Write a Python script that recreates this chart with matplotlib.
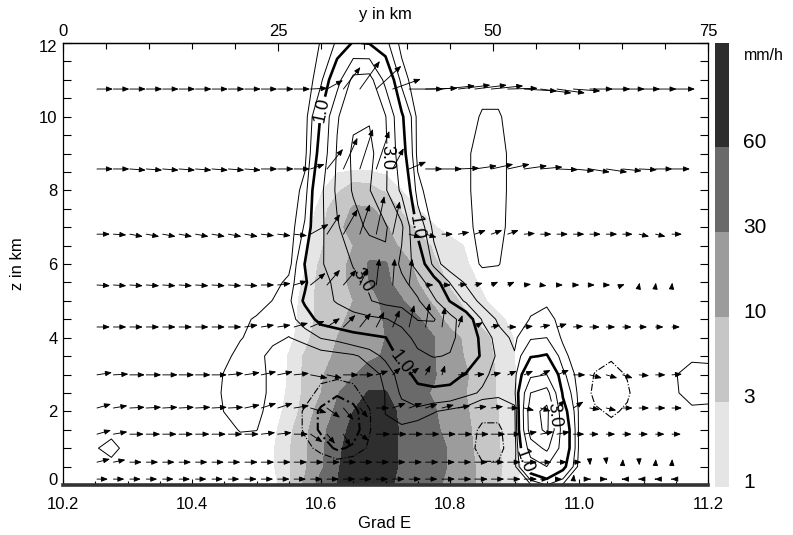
import numpy as np
import matplotlib
matplotlib.use("Agg")
import matplotlib.pyplot as plt
from matplotlib.colors import ListedColormap, BoundaryNorm
from matplotlib.ticker import MultipleLocator, FixedLocator, FixedFormatter

plt.rcParams['font.family'] = ['Liberation Sans', 'DejaVu Sans']

# ---------------- rain rate (mm/h), shaded ----------------
rain_lon = np.round(np.arange(10.525, 10.951, 0.025), 3)          # 18 columns
rain_z = np.arange(0.0, 9.01, 0.5)                                 # 19 levels
rain = np.array([
    [0.5, 2.0, 12, 40, 60, 80, 90, 70, 50, 45, 35, 25, 15, 6.0, 3.2, 1.1, 0.5, 0],
    [0.8, 2.5, 8, 25, 55, 85, 95, 75, 55, 45, 38, 28, 14, 7.0, 3.5, 1.3, 0.5, 0],
    [0.8, 2.5, 7, 25, 50, 80, 95, 80, 52, 45, 38, 28, 13, 6.0, 3.2, 1.1, 0.3, 0],
    [0.6, 2.0, 6, 22, 45, 70, 90, 80, 55, 45, 35, 22, 12, 6.0, 3.1, 1.2, 0.3, 0],
    [0.3, 1.5, 4, 15, 35, 60, 75, 70, 55, 40, 32, 20, 11, 5.0, 3.0, 1.2, 0.3, 0],
    [0.2, 1.2, 3.5, 10, 28, 45, 63, 62, 45, 35, 28, 16, 10, 5.0, 2.5, 1.1, 0.3, 0],
    [0.0, 1.1, 3.5, 8, 18, 28, 40, 45, 42, 38, 32, 18, 11, 5.0, 2.5, 1.05, 0.3, 0],
    [0.0, 1.1, 3.3, 6, 12, 20, 26, 32, 40, 38, 31, 15, 9, 4.5, 2.3, 1.0, 0.2, 0],
    [0.0, 0.5, 2.0, 5, 10, 15, 22, 30, 38, 36, 31, 14, 8, 4.0, 2.0, 0.9, 0.2, 0],
    [0.0, 0.4, 1.5, 4, 8, 12, 20, 32, 36, 33, 15, 6, 3.5, 2.0, 1.3, 0.6, 0, 0],
    [0.0, 0.3, 1.5, 4, 7, 10, 22, 35, 32, 15, 8, 4, 2.2, 1.2, 0.5, 0, 0, 0],
    [0.0, 0.2, 1.2, 4, 7, 12, 30, 35, 20, 10, 5, 2.5, 1.5, 0.8, 0, 0, 0, 0],
    [0.0, 0.0, 0.8, 3.5, 7, 12, 33, 32, 15, 7, 3.5, 1.8, 1.1, 0.5, 0, 0, 0, 0],
    [0.0, 0.0, 0.5, 2.5, 6, 10, 18, 15, 8, 5, 2.5, 1.5, 0.9, 0, 0, 0, 0, 0],
    [0.0, 0.0, 0.3, 2.0, 8, 13, 14, 11, 5, 2, 1.1, 0.5, 0, 0, 0, 0, 0, 0],
    [0.0, 0.0, 0.0, 1.5, 5, 11, 11, 7, 2.5, 1.0, 0.4, 0, 0, 0, 0, 0, 0, 0],
    [0.0, 0.0, 0.0, 0.8, 2.5, 4.5, 4, 2.5, 1.0, 0.3, 0, 0, 0, 0, 0, 0, 0, 0],
    [0.0, 0.0, 0.0, 0.0, 0.9, 1.1, 1.1, 0.7, 0, 0, 0, 0, 0, 0, 0, 0, 0, 0],
    [0.0, 0.0, 0.0, 0.0, 0, 0, 0, 0, 0, 0, 0, 0, 0, 0, 0, 0, 0, 0],
])
rain_levels = [1, 3, 10, 30, 60]
rain_colors = ['#e5e5e5', '#c6c6c6', '#9c9c9c', '#6a6a6a', '#2e2e2e']

# ---------------- vertical velocity (m/s), contoured ----------------
w_lon = np.round(np.arange(10.225, 11.201, 0.025), 3)             # 40 columns
w_z = np.array([0, 0.5, 1, 1.5, 2, 2.5, 3, 3.5, 4, 4.5, 5, 5.5, 6, 7, 8, 9, 10, 11, 12])
w_field = np.array([
    [0, 0, 0, 0, 0, 0, 0, 0, 0, 0,   0, 0, 0, 0, 0, 0, 0, 0, 0, 0,
     0, 0, 0, 0, 0, 0, 0, 0, 0.15, 0.5,   0.15, 0, 0, 0, 0, 0, 0, 0, 0, 0],
    [0, 0, 0, 0, 0, 0, 0, 0, 0, 0,   0, 0, 0, 0, 0, 0, -0.1, 0, 0, 0,
     0, 0, 0, 0, 0, -0.4, -0.4, 0.1, 1.5, 2.0,   1.2, 0.1, 0, 0, 0, 0, 0, 0, 0, 0],
    [0, 0.15, 0.4, 0, 0, 0, 0, 0, 0, 0,   0, 0, 0, 0, -0.3, -0.7, -1.1, -0.9, -0.4, 0,
     0, 0, 0, 0, -0.2, -0.75, -0.75, 0, 2.5, 3.2,   1.6, 0.15, 0, 0, 0, 0, 0, 0, 0, 0],
    [0, 0, 0, 0, 0, 0, 0, 0, 0, 0.05,   0.23, 0.21, 0, 0, -0.6, -1.1, -1.6, -1.3, -0.55, 0.1,
     0.12, 0, 0, 0, -0.15, -0.65, -0.65, 0.05, 3.5, 4.2,   1.6, 0.15, -0.15, -0.3, -0.1, 0, 0, 0, 0, 0],
    [0, 0, 0, 0, 0, 0, 0, 0, 0, 0.21,   0.35, 0.3, 0.05, 0, -0.6, -1.1, -1.5, -1.2, -0.55, 0.22,
     0.4, 0.4, 0.22, 0.12, 0.05, -0.25, -0.25, 0.1, 3.6, 4.3,   1.3, 0.15, -0.4, -0.6, -0.4, 0, 0, 0, 0.1, 0.1],
    [0, 0, 0, 0, 0, 0, 0, 0, 0, 0.25,   0.4, 0.35, 0.1, 0, -0.2, -0.7, -0.9, -0.7, -0.2, 0.22,
     0.55, 0.8, 0.85, 0.8, 0.6, 0.45, 0.35, 0.4, 3.0, 3.4,   0.9, 0.1, -0.7, -0.9, -0.6, 0, 0, 0.15, 0.4, 0.35],
    [0, 0, 0, 0, 0, 0, 0, 0, 0, 0.22,   0.35, 0.35, 0.1, 0, 0, -0.3, -0.35, -0.3, 0.1, 0.25,
     0.7, 1.2, 1.3, 1.25, 0.95, 0.6, 0.35, 0.35, 1.8, 2.0,   0.6, 0.05, -0.55, -0.75, -0.45, 0, 0, 0.18, 0.4, 0.35],
    [0, 0, 0, 0, 0, 0, 0, 0, 0, 0.12,   0.3, 0.3, 0.1, 0, 0, 0.05, 0.1, 0.15, 0.3, 0.6,
     1.2, 1.8, 2.05, 1.95, 1.5, 0.9, 0.4, 0.22, 0.95, 1.05,   0.3, 0, -0.2, -0.4, -0.15, 0, 0, 0, 0.1, 0.1],
    [0, 0, 0, 0, 0, 0, 0, 0, 0, 0.1,   0.18, 0.3, 0.28, 0.19, 0.3, 0.52, 0.6, 0.75, 0.85, 0.98,
     1.6, 2.3, 2.6, 2.2, 1.6, 0.8, 0.3, 0.15, 0.45, 0.5,   0.15, 0, 0, 0, 0, 0, 0, 0, 0, 0],
    [0, 0, 0, 0, 0, 0, 0, 0, 0, 0,   0.1, 0.25, 0.3, 0.35, 0.7, 1.2, 1.4, 1.6, 1.8, 1.95,
     2.3, 3.05, 3.05, 2.4, 1.4, 0.45, 0.15, 0, 0.22, 0.3,   0.1, 0, 0, 0, 0, 0, 0, 0, 0, 0],
    [0, 0, 0, 0, 0, 0, 0, 0, 0, 0,   0, 0, 0.21, 0.4, 1.1, 1.6, 2.1, 2.6, 2.95, 3.3,
     3.4, 3.1, 2.2, 0.95, 0.4, 0.1, 0, 0, 0.1, 0.15,   0, 0, 0, 0, 0, 0, 0, 0, 0, 0],
    [0, 0, 0, 0, 0, 0, 0, 0, 0, 0,   0, 0, 0.05, 0.3, 0.9, 1.7, 2.2, 2.8, 3.1, 3.4,
     3.2, 2.6, 1.3, 0.48, 0.15, 0, 0, 0, 0, 0,   0, 0, 0, 0, 0, 0, 0, 0, 0, 0],
    [0, 0, 0, 0, 0, 0, 0, 0, 0, 0,   0, 0, 0, 0.05, 1.02, 1.9, 2.5, 3.05, 3.3, 3.85,
     2.8, 1.5, 0.35, 0, 0, 0.25, 0.22, 0, 0, 0,   0, 0, 0, 0, 0, 0, 0, 0, 0, 0],
    [0, 0, 0, 0, 0, 0, 0, 0, 0, 0,   0, 0, 0, 0, 0.55, 1.8, 2.9, 3.6, 4.2, 4.1,
     3.2, 0.8, 0.1, 0, 0.05, 0.4, 0.35, 0, 0, 0,   0, 0, 0, 0, 0, 0, 0, 0, 0, 0],
    [0, 0, 0, 0, 0, 0, 0, 0, 0, 0,   0, 0, 0, 0, 0.3, 1.8, 3.2, 4.1, 4.05, 3.1,
     1.8, 0.3, 0, 0, 0.1, 0.45, 0.4, 0, 0, 0,   0, 0, 0, 0, 0, 0, 0, 0, 0, 0],
    [0, 0, 0, 0, 0, 0, 0, 0, 0, 0,   0, 0, 0, 0, 0.1, 1.3, 3.1, 4.2, 4.3, 3.2,
     1.3, 0.1, 0, 0, 0.1, 0.45, 0.4, 0, 0, 0,   0, 0, 0, 0, 0, 0, 0, 0, 0, 0],
    [0, 0, 0, 0, 0, 0, 0, 0, 0, 0,   0, 0, 0, 0, 0.05, 1.05, 2.9, 3.8, 3.9, 3.05,
     1.1, 0.1, 0, 0, 0, 0.25, 0.25, 0, 0, 0,   0, 0, 0, 0, 0, 0, 0, 0, 0, 0],
    [0, 0, 0, 0, 0, 0, 0, 0, 0, 0,   0, 0, 0, 0, 0, 0.4, 1.6, 3.3, 3.4, 1.7,
     0.35, 0, 0, 0, 0, 0, 0, 0, 0, 0,   0, 0, 0, 0, 0, 0, 0, 0, 0, 0],
    [0, 0, 0, 0, 0, 0, 0, 0, 0, 0,   0, 0, 0, 0, 0, 0.22, 0.55, 1.05, 0.95, 0.6,
     0.1, 0, 0, 0, 0, 0, 0, 0, 0, 0,   0, 0, 0, 0, 0, 0, 0, 0, 0, 0],
])
w_levels_thin = [0.2, 0.5, 2.0, 4.0]
w_level_thick = 1.0
w_level_three = 3.0
w_levels_neg = [-1.0, -0.5]

# ---------------- wind vectors (u, w in m/s) ----------------
vec_lon = np.linspace(10.2527, 11.1442, 36)
vec_z = [0.16, 0.62, 1.38, 2.09, 2.99, 4.29, 5.43, 6.81, 8.58, 10.75]
vec_u = np.array([
    [11, 11, 11, 11, 11, 11, 11, 11, 11,  12, 12, 12, 12,  12, 12, 12, 12,  12, 12, 12, 12, 13, 13, 13, 13,
     13, 13, 8, 5,  0.5,  0.8, 0.8, -0.8, -0.8, -0.8, -0.8],
    [13, 12, 12, 12, 12, 12, 12, 12, 12,  13, 13, 13, 13,  13, 13, 13, 13,  13, 13, 13, 13, 13, 13, 13, 13,
     13, 13, 11, 10,  8,  0.3, 0.3, 0.2, 0.2, 0.2, 0.2],
    [14, 14, 14, 14, 14, 14, 14, 14, 14,  14, 14, 14, 14,  12, 8, 7, 9,  14, 14, 14, 14, 14, 14, 14, 14,
     13, 13, 13, 13,  11,  9, 9, 9, 9, 9, 9],
    [14, 14, 15, 15, 15, 15, 15, 15, 15,  15, 15, 15, 15,  16, 13, 10, 8,  13, 13, 13, 12, 12, 12, 12, 12,
     11, 10, 10, 8,  10,  10, 10, 10, 10, 10, 10],
    [15, 15, 15, 15, 15, 15, 15, 15, 15,  15, 15, 15, 15,  17, 15, 15, 14,  12, 8, 10, 5, 3, 10, 10, 10,
     9, 9, 10, 12,  12,  12, 11, 10, 10, 10, 10],
    [13, 13, 13, 13, 13, 13, 13, 13, 13,  13, 13, 13, 14,  14, 13, 12, 11,  8, 7, 5, 4, 3, 4, 8, 9,
     9, 9, 10, 10,  10,  10, 9, 9, 8, 8, 8],
    [13, 13, 13, 13, 13, 13, 13, 13, 13,  13, 13, 13, 13,  15, 13, 13, 8,  3, 2, 3, 8, 9, 9, 8, 7,
     7, 7, 6, 6,  6,  5, 4, 2, 0.5, 0.3, 0.3],
    [13, 13, 13, 13, 13, 13, 13, 13, 13,  13, 13, 13, 13,  18, 13, 14, 10,  8, 7, 12, 11, 11, 11, 11, 11,
     11, 11, 11, 11,  11,  11, 11, 10, 10, 10, 10],
    [16, 16, 16, 16, 16, 16, 16, 16, 16,  16, 16, 16, 16,  14, 16, 14, 13,  13, 11, 17, 17, 20, 21, 22, 22,
     22, 23, 22, 21,  21,  20, 21, 19, 18, 17, 18],
    [16, 16, 16, 16, 16, 16, 16, 16, 16,  16, 16, 16, 16,  17, 16, 17, 20,  25, 28, 34, 32, 33, 32, 32, 32,
     30, 33, 31, 28,  27,  23, 24, 22, 21, 21, 23],
])
vec_w = np.array([
    [0, 0, 0, 0, 0, 0, 0, 0, 0,  0, 0, 0, 0,  0, 0, 0, 0,  0, 0, 0, 0, 0, 0, 0, 0,
     0, 0, 0, 0,  0.6,  0, 0, 0, 0, 0, 0],
    [0.4, 0.3, 0, 0, 0, 0, 0, 0, 0,  0, 0, 0, 0,  0, 0, 0, 0,  0, 0, 0, 0, 0, 0, 0, 0,
     0, 0, 0, 0,  0,  -0.4, -0.3, 0.4, -0.4, 0.4, 0.4],
    [0.5, 0.3, 0, 0, 0, 0, 0, 0, 0,  0, 0.2, 0.2, 0,  -1.0, -1.2, -1.5, -0.8,  0, 0, 0, 0, 0, 0, 0, 0,
     0, 0.3, 0.3, 0.3,  0,  0, 0, 0, 0, 0, 0],
    [0.5, 0.3, 0.1, 0.1, 0.1, 0.1, 0.1, 0.1, 0.1,  0.4, 0.6, 0.6, 0.3,  -0.6, -1.2, -1.5, -1.2,
     0, 0.6, 0.6, 0.5, 0.4, 0.3, 0.2, 0.2,  0, -0.3, -0.4, 1.0,  0.8,  -0.2, -0.3, 0, 0, 0, 0],
    [0.3, 0.1, 0, 0, 0, 0, 0, 0, 0.2,  0.3, 0.4, 0.4, 0.2,  -0.4, -0.4, 0, 0,
     0.5, 0.9, 0.9, 1.2, 1.2, 0.1, 0.1, 0.25,  0.5, 0.5, 0.6, 0.6,  0,  -0.4, -0.4, -0.4, -0.1, 0, 0.1],
    [0, 0, 0, 0, 0, 0, 0, 0, 0,  0.25, 0.25, 0.25, 0.5,  0.75, 1.1, 1.5, 1.75,
     1.9, 2.1, 2.75, 3.0, 2.5, 1.5, 0.6, 0.25,  0, 0.1, 0.25, 0.4,  0.1,  0, 0, 0, 0, 0, 0],
    [-0.1, -0.1, -0.1, -0.1, -0.1, -0.1, -0.1, -0.1, -0.1,  -0.1, 0, 0.2, 0.5,  1.5, 1.9, 1.9, 2.1,
     3.3, 3.3, 3.3, 0, 0, 0.1, 0.25, 0.4,  0.4, 0.1, -0.1, 0,  0,  0, 0, 0.1, 0.3, 0.3, 0.3],
    [0, -0.1, -0.3, -0.3, -0.3, -0.3, -0.3, -0.3, -0.3,  -0.3, -0.2, -0.2, -0.2,  1.25, 2.5, 3.1, 3.75,
     4.75, 4.1, -0.4, -0.4, 0, 0.25, 0.5, 0.5,  0.5, 0.1, 0, 0,  0,  0, 0, 0, -0.3, -0.3, 0],
    [0, 0, -0.15, -0.15, -0.15, -0.15, -0.15, -0.15, -0.15,  -0.15, 0, 0, 0,  0.6, 2.5, 3.9, 5.0,
     4.75, 2.6, 0.9, 0, 0, 0.1, 0.4, 0.6,  0.6, 0.4, 0.25, -0.1,  -0.25,  -0.4, -0.4, -0.25, -0.1, 0, 0],
    [0, 0, 0, 0, 0, 0, 0, 0, 0,  0, 0, 0, 0,  0.1, 1.1, 2.75, 3.5,
     2.9, 1.25, 0, 0.1, 0.4, 0.5, 0.5, 0.4,  0.1, -0.25, -0.5, -0.5,  -0.25,  0, 0, 0, 0, 0, 0],
])
# arrow length per m/s in data units (vertical component exaggerated)
arrow_dx_per_ms = 1.0 / 645.0
arrow_dz_per_ms = 8.0 * 12.0 / 442.0

# tick values
lon_ticks = [10.2, 10.4, 10.6, 10.8, 11.0, 11.2]
km_ticks = [0, 25, 50, 75]
z_ticks = [0, 2, 4, 6, 8, 10, 12]

# ---------------- figure ----------------
W_PX, H_PX = 793, 535
fig = plt.figure(figsize=(W_PX / 100, H_PX / 100), dpi=100)
ax = fig.add_axes([63 / W_PX, 1 - 485 / H_PX, 645 / W_PX, 442 / H_PX])
ax.set_xlim(10.2, 11.2)
ax.set_ylim(0, 12)

cmap = ListedColormap(rain_colors)
bounds = rain_levels + [1000]
ax.contourf(rain_lon, rain_z, rain, levels=bounds, colors=rain_colors, zorder=1)

ax.contour(w_lon, w_z, w_field, levels=w_levels_thin, colors='black',
           linewidths=0.7, linestyles='solid', zorder=2)
cs_one = ax.contour(w_lon, w_z, w_field, levels=[w_level_thick], colors='black',
                    linewidths=1.9, linestyles='solid', zorder=2)
cs_three = ax.contour(w_lon, w_z, w_field, levels=[w_level_three], colors='black',
                      linewidths=0.7, linestyles='solid', zorder=2)
ax.contour(w_lon, w_z, w_field, levels=w_levels_neg, colors='black',
           linewidths=[1.5, 0.8], linestyles='dashdot', zorder=2)

ax.clabel(cs_one, fmt='%.1f', fontsize=13, inline=True, inline_spacing=1,
          manual=[(10.598, 10.2), (10.752, 7.0), (10.72, 3.3), (10.93, 0.7)])
ax.clabel(cs_three, fmt='%.1f', fontsize=13, inline=True, inline_spacing=1,
          manual=[(10.703, 8.9), (10.668, 5.6), (10.945, 1.9)])

for i, z0 in enumerate(vec_z):
    for j, x0 in enumerate(vec_lon):
        x1 = x0 + vec_u[i, j] * arrow_dx_per_ms
        z1 = z0 + vec_w[i, j] * arrow_dz_per_ms
        ax.annotate('', xy=(x1, z1), xytext=(x0, z0), zorder=3,
                    arrowprops=dict(arrowstyle='-|>,head_length=0.55,head_width=0.22',
                                    color='black', lw=0.65, shrinkA=0, shrinkB=0,
                                    mutation_scale=7))

# axes styling
for side in ['left', 'right', 'top']:
    ax.spines[side].set_linewidth(0.9)
ax.spines['bottom'].set_linewidth(2.6)
ax.spines['bottom'].set_color('#333333')

ax.xaxis.set_major_locator(FixedLocator(lon_ticks))
ax.xaxis.set_minor_locator(MultipleLocator(0.05))
ax.xaxis.set_major_formatter(FixedFormatter([f'{v:.1f}' for v in lon_ticks]))
ax.yaxis.set_major_locator(FixedLocator(z_ticks))
ax.yaxis.set_minor_locator(MultipleLocator(0.5))
# end labels of the z axis are nudged inward below
ax.yaxis.set_major_formatter(FixedFormatter(
    ['' if v in (z_ticks[0], z_ticks[-1]) else str(v) for v in z_ticks]))
ax.tick_params(axis='x', which='major', direction='in', length=4, width=0.8,
               labelsize=12, pad=8.5, top=False)
ax.tick_params(axis='x', which='minor', direction='in', length=3, width=0.8, top=False)
ax.tick_params(axis='y', which='both', direction='in', length=5.5, width=0.8,
               right=True, labelsize=12, pad=4)
for v, dy in [(z_ticks[0], 3.0), (z_ticks[-1], -3.5)]:
    ax.annotate(str(v), xy=(0, v), xycoords=('axes fraction', 'data'),
                xytext=(-4, dy), textcoords='offset points',
                ha='right', va='center', fontsize=12)

sec = ax.secondary_xaxis('top', functions=(lambda x: (x - 10.2) * 75.0,
                                           lambda k: 10.2 + k / 75.0))
sec.xaxis.set_major_locator(FixedLocator(km_ticks))
sec.xaxis.set_minor_locator(MultipleLocator(5))
sec.tick_params(which='major', direction='in', length=6, width=0.8, labelsize=12, pad=3)
sec.tick_params(which='minor', direction='in', length=4, width=0.8)
sec.spines['top'].set_linewidth(0.9)

fig.text(385 / W_PX, 1 - 15 / H_PX, 'y in km', ha='center', va='center', fontsize=12)
fig.text(385 / W_PX, 1 - 524 / H_PX, 'Grad E', ha='center', va='center', fontsize=12)
fig.text(17 / W_PX, 1 - 264 / H_PX, 'z in km', ha='center', va='center',
         fontsize=12, rotation=90)

# colour scale
cax = fig.add_axes([715 / W_PX, 1 - 487 / H_PX, 14 / W_PX, 444 / H_PX])
band_edges = [0, 1, 2, 3, 4, 5.22]
cax.pcolormesh([0, 1], band_edges, np.arange(len(rain_levels)).reshape(-1, 1),
               cmap=cmap, norm=BoundaryNorm(np.arange(-0.5, len(rain_levels) + 0.5), cmap.N))
cax.set_xlim(0, 1)
cax.set_ylim(0, 5.22)
for s in cax.spines.values():
    s.set_visible(False)
cax.set_xticks([])
cax.set_yticks([])
for k, v in enumerate(rain_levels):
    cax.annotate(str(v), xy=(1, band_edges[k]), xycoords=('axes fraction', 'data'),
                 xytext=(10, 3), textcoords='offset points',
                 ha='left', va='center', fontsize=15)
fig.text(744 / W_PX, 1 - 55 / H_PX, 'mm/h', ha='left', va='center', fontsize=11.5)

fig.savefig('out.png', dpi=100)
